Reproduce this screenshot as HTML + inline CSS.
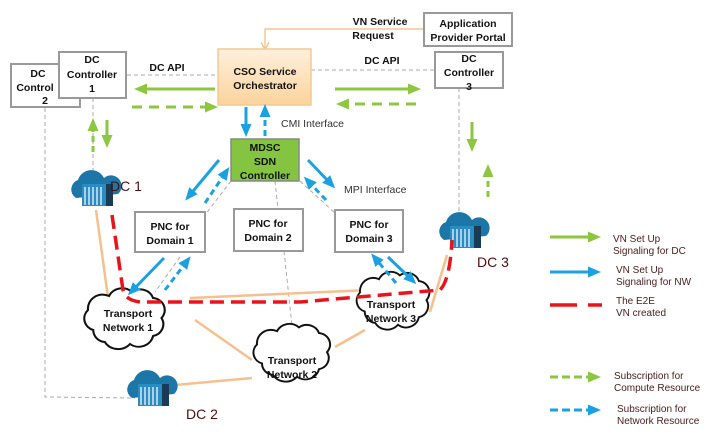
<!DOCTYPE html>
<html><head><style>
body{margin:0;background:#fff}
svg{display:block}
text{font-family:"Liberation Sans",sans-serif}
.b{font-weight:bold;font-size:10.5px;fill:#111}
.n{font-size:10.5px;fill:#333}
.lg{font-size:10px;fill:#4a2020}
.dc{font-size:14px;fill:#4a1010}
</style></head><body>
<svg width="707" height="435" viewBox="0 0 707 435" xmlns="http://www.w3.org/2000/svg">
<defs>
<linearGradient id="og" x1="0" y1="0" x2="0" y2="1"><stop offset="0" stop-color="#fff0dc"/><stop offset="1" stop-color="#fbd39c"/></linearGradient>
<marker id="ag" markerWidth="13" markerHeight="13" refX="7" refY="6.5" orient="auto" markerUnits="userSpaceOnUse"><path d="M0,1 L13,6.5 L0,12z" fill="#8dc63f"/></marker>
<marker id="ab" markerWidth="13" markerHeight="13" refX="7" refY="6.5" orient="auto" markerUnits="userSpaceOnUse"><path d="M0,1 L13,6.5 L0,12z" fill="#1ba1e2"/></marker>
<marker id="ao" markerWidth="8" markerHeight="8" refX="6" refY="4" orient="auto" markerUnits="userSpaceOnUse"><path d="M0,0 L8,4 L0,8" fill="none" stroke="#f6b97a" stroke-width="1.2"/></marker>
<path id="cl" d="M-35,10 a12,12 0 0,1 -5,-20 a14,14 0 0,1 20,-14 a14,14 0 0,1 22,-4 a13,13 0 0,1 20,6 a12,12 0 0,1 8,20 a12,12 0 0,1 -8,18 a14,14 0 0,1 -22,8 a15,15 0 0,1 -24,-2 a12,12 0 0,1 -11,-12 z"/>
<g id="dcicon">
<path d="M-20,8 a10,10 0 0,1 2,-18 a14,14 0 0,1 26,-2 a10,10 0 0,1 14,16 z" fill="#1d76a8"/>
<rect x="-14" y="-6" width="24" height="22" fill="#2a8cc0"/>
<rect x="10" y="-6" width="7" height="22" fill="#1b3a55"/>
<g stroke="#fff" stroke-width="1.2"><line x1="-11" y1="-3" x2="-11" y2="15"/><line x1="-7" y1="-3" x2="-7" y2="15"/><line x1="-3" y1="-3" x2="-3" y2="15"/><line x1="1" y1="-3" x2="1" y2="15"/><line x1="5" y1="-3" x2="5" y2="15"/></g>
</g>
</defs>

<g stroke="#aaa" stroke-width="1" stroke-dasharray="4,3" fill="none">
<line x1="127" y1="75" x2="218" y2="75"/>
<line x1="311" y1="70" x2="435" y2="70"/>
<polyline points="45,108 45,397 135,398"/>
<line x1="93" y1="98" x2="93" y2="175"/>
<line x1="459" y1="88" x2="459" y2="220"/>
<line x1="231" y1="181" x2="205" y2="215"/>
<line x1="275" y1="181" x2="278" y2="209"/>
<line x1="300" y1="181" x2="335" y2="213"/>
<line x1="284" y1="251" x2="293" y2="335"/>
<line x1="180" y1="257" x2="155" y2="292"/>
</g>

<g stroke="#f6c08e" stroke-width="2.5" fill="none">
<line x1="96" y1="210" x2="110" y2="312"/>
<line x1="190" y1="298" x2="370" y2="290"/>
<line x1="195" y1="320" x2="252" y2="360"/>
<line x1="335" y1="347" x2="365" y2="330"/>
<line x1="175" y1="385" x2="252" y2="378"/>
<line x1="447" y1="255" x2="430" y2="312"/>
</g>
<polyline points="424,29 265,29 265,48" fill="none" stroke="#f6b97a" stroke-width="1.2" marker-end="url(#ao)"/>

<g stroke="#999" stroke-width="2" fill="#fff">
<rect x="11" y="64" width="69" height="43"/>
<rect x="59" y="52" width="67" height="46"/>
<rect x="424" y="13" width="88" height="33"/>
<rect x="435" y="52" width="68" height="36"/>
<rect x="135" y="212" width="70" height="40"/>
<rect x="234" y="209" width="69" height="42"/>
<rect x="335" y="210" width="68" height="42"/>
</g>
<rect x="218" y="49" width="93" height="56" fill="url(#og)" stroke="#f5c98f" stroke-width="1.5"/>
<rect x="231" y="139" width="68" height="42" fill="#84c441" stroke="#888" stroke-width="1.5"/>

<g class="b" text-anchor="middle">
<text x="38" y="77">DC</text><text x="35" y="91">Control</text><text x="45" y="104">2</text>
<text x="92" y="63">DC</text><text x="92" y="78">Controller</text><text x="92" y="92">1</text>
<text x="468" y="27">Application</text><text x="468" y="41">Provider Portal</text>
<text x="469" y="62">DC</text><text x="469" y="76">Controller</text><text x="469" y="90">3</text>
<text x="265" y="75">CSO Service</text><text x="265" y="89">Orchestrator</text>
<text x="265" y="151">MDSC</text><text x="265" y="165">SDN</text><text x="265" y="179">Controller</text>
<text x="170" y="230">PNC for</text><text x="170" y="244">Domain 1</text>
<text x="268" y="227">PNC for</text><text x="268" y="241">Domain 2</text>
<text x="369" y="228">PNC for</text><text x="369" y="242">Domain 3</text>
<text x="380" y="25">VN Service</text><text x="373" y="39">Request</text>
<text x="167" y="71">DC API</text><text x="382" y="64">DC API</text>
</g>
<text class="n" x="281" y="127">CMI Interface</text>
<text class="n" x="344" y="193">MPI Interface</text>

<g fill="#fff" stroke="#111" stroke-width="2">
<use href="#cl" transform="translate(130,320) scale(1.05,1.0)"/>
<use href="#cl" transform="translate(297,354) scale(1.0,0.95)"/>
<use href="#cl" transform="translate(398,302) scale(0.95,0.95)"/>
</g>
<g class="b" text-anchor="middle">
<text x="128" y="317">Transport</text><text x="128" y="331">Network 1</text>
<text x="292" y="364">Transport</text><text x="292" y="378">Network 2</text>
<text x="391" y="308">Transport</text><text x="391" y="322">Network 3</text>
</g>

<use href="#dcicon" transform="translate(96,190)"/>
<use href="#dcicon" transform="translate(152,390)"/>
<use href="#dcicon" transform="translate(464,232)"/>
<text class="dc" x="110" y="191">DC 1</text>
<text class="dc" x="186" y="419">DC 2</text>
<text class="dc" x="477" y="267">DC 3</text>

<path d="M112,215 L123,290 Q125,300 140,302 L300,302 L440,290 Q450,280 452,240" fill="none" stroke="#e8141b" stroke-width="3.5" stroke-dasharray="14,7"/>

<g stroke="#8dc63f" stroke-width="3" fill="none">
<line x1="215" y1="89" x2="140" y2="89" marker-end="url(#ag)"/>
<line x1="132" y1="107" x2="212" y2="107" stroke-dasharray="10,7" marker-end="url(#ag)"/>
<line x1="335" y1="89" x2="415" y2="89" marker-end="url(#ag)"/>
<line x1="416" y1="104" x2="342" y2="104" stroke-dasharray="10,7" marker-end="url(#ag)"/>
<line x1="93" y1="152" x2="93" y2="124" stroke-dasharray="6,4" marker-end="url(#ag)"/>
<line x1="107" y1="120" x2="107" y2="142" marker-end="url(#ag)"/>
<line x1="472" y1="122" x2="472" y2="146" marker-end="url(#ag)"/>
<line x1="488" y1="197" x2="488" y2="170" stroke-dasharray="6,4" marker-end="url(#ag)"/>
</g>
<g stroke="#1ba1e2" stroke-width="3" fill="none">
<line x1="246" y1="107" x2="246" y2="131" marker-end="url(#ab)"/>
<line x1="265" y1="136" x2="265" y2="110" stroke-dasharray="6,4" marker-end="url(#ab)"/>
<line x1="219" y1="160" x2="189" y2="196" marker-end="url(#ab)"/>
<line x1="205" y1="203" x2="226" y2="172" stroke-dasharray="6,4" marker-end="url(#ab)"/>
<line x1="308" y1="160" x2="331" y2="184" marker-end="url(#ab)"/>
<line x1="326" y1="200" x2="308" y2="181" stroke-dasharray="6,4" marker-end="url(#ab)"/>
<line x1="164" y1="258" x2="132" y2="291" marker-end="url(#ab)"/>
<line x1="165" y1="290" x2="187" y2="261" stroke-dasharray="6,4" marker-end="url(#ab)"/>
<line x1="396" y1="283" x2="375" y2="258" stroke-dasharray="6,4" marker-end="url(#ab)"/>
<line x1="388" y1="257" x2="412" y2="280" marker-end="url(#ab)"/>
</g>

<line x1="550" y1="237" x2="595" y2="237" stroke="#8dc63f" stroke-width="3" marker-end="url(#ag)"/>
<line x1="550" y1="272" x2="595" y2="272" stroke="#1ba1e2" stroke-width="3" marker-end="url(#ab)"/>
<line x1="550" y1="305" x2="602" y2="305" stroke="#e8141b" stroke-width="3.5" stroke-dasharray="27,11"/>
<line x1="550" y1="377" x2="595" y2="377" stroke="#8dc63f" stroke-width="3" stroke-dasharray="8,4" marker-end="url(#ag)"/>
<line x1="550" y1="410" x2="595" y2="410" stroke="#1ba1e2" stroke-width="3" stroke-dasharray="8,4" marker-end="url(#ab)"/>
<g class="lg">
<text x="613" y="242">VN Set Up</text><text x="613" y="254">Signaling for DC</text>
<text x="616" y="273">VN Set Up</text><text x="616" y="285">Signaling for NW</text>
<text x="616" y="304">The E2E</text><text x="616" y="316">VN created</text>
<text x="614" y="379">Subscription for</text><text x="614" y="391">Compute Resource</text>
<text x="617" y="412">Subscription for</text><text x="617" y="424">Network Resource</text>
</g>
</svg>
</body></html>
